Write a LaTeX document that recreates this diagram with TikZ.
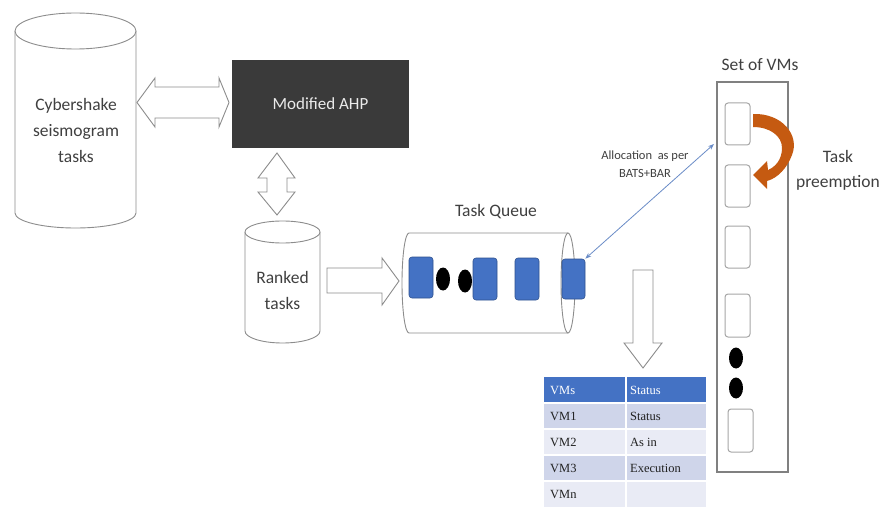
\documentclass[tikz,border=0pt]{standalone}
\usepackage{fontspec}
\setmainfont{Carlito}
\newfontfamily\tabfont{Liberation Serif}
\usetikzlibrary{arrows.meta}
\definecolor{outline}{HTML}{8C8C8C}
\definecolor{labelgray}{HTML}{404040}
\definecolor{ahpfill}{HTML}{3A3A3A}
\definecolor{taskblue}{HTML}{4472C4}
\definecolor{taskedge}{HTML}{2F528F}
\definecolor{linkblue}{HTML}{6A8CC7}
\definecolor{preempt}{HTML}{C55A11}
\definecolor{bandA}{HTML}{CFD5EA}
\definecolor{bandB}{HTML}{E9EBF5}
\definecolor{celltext}{HTML}{222222}

\begin{document}
\begin{tikzpicture}[x=1pt,y=-1pt,
  cyl/.style={draw=outline, line width=0.9pt, fill=white},
  blockarrow/.style={draw=outline, line width=0.9pt, fill=white, line join=miter},
  lbl/.style={text=labelgray, font=\fontsize{17.5}{26}\selectfont, align=center, inner sep=0pt},
  task/.style={draw=taskedge, fill=taskblue, rounded corners=3pt, line width=0.6pt, inner sep=0pt},
  vmslot/.style={draw=gray!70, line width=1pt, rounded corners=3pt, fill=white, inner sep=0pt},
  celltxt/.style={anchor=west, inner sep=0pt, text=celltext, font=\tabfont\fontsize{12.5}{14}\selectfont},
  headtxt/.style={celltxt, text=white}
]
\useasboundingbox (0,0) rectangle (881,508);
\fill[white] (0,0) rectangle (881,508);

% ---- source store: Cybershake tasks ----
\path[cyl] (15,31) -- (15,213) arc[start angle=180,end angle=360,x radius=60.5pt,y radius=15pt] -- (136,31);
\draw[cyl] (75.5,31) ellipse [x radius=60.5pt, y radius=18pt];
\node[lbl] (cyber) at (76,130) {Cybershake\\seismogram\\tasks};

% ---- Modified AHP block ----
\node[fill=ahpfill, minimum width=177pt, minimum height=88pt, inner sep=0pt,
      text=white!92!black, font=\fontsize{17}{20}\selectfont] (ahp) at (320.5,104) {Modified AHP};

% two-way block arrow between store and AHP
\draw[blockarrow] (137,102.5) -- (155,78) -- (155,87) -- (219,87) -- (219,78) -- (229,102.5)
  -- (219,127) -- (219,118) -- (155,118) -- (155,127) -- cycle;

% two-way block arrow between AHP and ranked tasks
\draw[blockarrow] (277,153) -- (295,178) -- (287,178) -- (287,192) -- (295,192) -- (277,215)
  -- (258,192) -- (267,192) -- (267,178) -- (258,178) -- cycle;

% ---- ranked tasks store ----
\path[cyl] (245,232) -- (245,331) arc[start angle=180,end angle=360,x radius=37.5pt,y radius=12pt] -- (320,232);
\draw[cyl] (282.5,232) ellipse [x radius=37.5pt, y radius=11pt];
\node[lbl] (ranked) at (282.5,290) {Ranked\\tasks};

% block arrow into the queue
\draw[blockarrow] (327,268) -- (382,268) -- (382,258) -- (399,281) -- (382,305) -- (382,293) -- (327,293) -- cycle;

% ---- task queue (horizontal cylinder) ----
\path[cyl] (568,233) -- (409,233) arc[start angle=90,end angle=270,x radius=7pt,y radius=50pt] -- (568,333);
\draw[cyl] (568,283) ellipse [x radius=7pt, y radius=50pt];
\node[lbl] (tq) at (496,212) {Task Queue};

\node[task, minimum width=24pt, minimum height=41pt] (q1) at (421,277.5) {};
\node[task, minimum width=24pt, minimum height=42pt] (q2) at (485,279) {};
\node[task, minimum width=24pt, minimum height=42pt] (q3) at (527,279) {};
\node[task, minimum width=23pt, minimum height=40pt] (q4) at (573.5,279) {};
\fill (443,279) ellipse [x radius=7pt, y radius=11.5pt];
\fill (465,281) ellipse [x radius=7pt, y radius=11.5pt];

% ---- set of VMs ----
\node[draw=gray, line width=1.3pt, minimum width=71pt, minimum height=390pt, inner sep=0pt] (vmset) at (752.5,277) {};
\node[lbl] (setvm) at (760,65) {Set of VMs};
\node[vmslot, minimum width=25pt, minimum height=42pt] (s1) at (737.5,124) {};
\node[vmslot, minimum width=25pt, minimum height=42pt] (s2) at (737.5,186) {};
\node[vmslot, minimum width=25pt, minimum height=42pt] (s3) at (737.5,247) {};
\node[vmslot, minimum width=25pt, minimum height=43pt] (s4) at (737.5,315.5) {};
\node[vmslot, minimum width=25pt, minimum height=43pt] (s5) at (740.5,430.5) {};
\fill (736,358) ellipse [x radius=7pt, y radius=10.5pt];
\fill (736,388) ellipse [x radius=7pt, y radius=10.5pt];

% allocation link from queue head to the VMs
\coordinate (vmentry) at (714,144);
\draw[linkblue, line width=0.8pt, {Stealth[length=6pt,width=4.5pt]}-{Stealth[length=6pt,width=4.5pt]}] (q4.north east) -- (vmentry);
\node[text=labelgray, font=\fontsize{12.5}{18}\selectfont, align=center, inner sep=0pt] (alloc) at (645,164) {Allocation\ \ as per\\BATS+BAR};

% preemption: curved arrow from the first slot down to the second
\fill[preempt] (753,114) .. controls (782,113) and (800,135) .. (792,155)
  .. controls (787,168) and (778,178) .. (767,181) -- (767,189) -- (753,175) -- (767,161)
  -- (768,170) .. controls (775,167) and (782,160) .. (782,148)
  .. controls (782,136) and (770,127) .. (753,127) -- cycle;
\node[lbl, font=\fontsize{17.5}{25}\selectfont] (preemptlbl) at (838,170) {Task\\preemption};

% block arrow down to the status table
\draw[blockarrow] (633,270) -- (653,270) -- (653,343) -- (662,343) -- (643,368) -- (624,343) -- (633,343) -- cycle;

% ---- VM status table ----
\fill[taskblue] (544,377) rectangle (706,403);
\fill[bandA] (544,403) rectangle (706,429);
\fill[bandB] (544,429) rectangle (706,455);
\fill[bandA] (544,455) rectangle (706,481);
\fill[bandB] (544,481) rectangle (706,507);
\draw[white, line width=1.5pt] (626,377) -- (626,507)
  (544,403) -- (706,403) (544,429) -- (706,429) (544,455) -- (706,455) (544,481) -- (706,481);
\node[headtxt] (h1) at (550,390) {VMs};
\node[headtxt] (h2) at (630,390) {Status};
\node[celltxt] (r1a) at (550,416) {VM1};
\node[celltxt] (r1b) at (630,416) {Status};
\node[celltxt] (r2a) at (550,442) {VM2};
\node[celltxt] (r2b) at (630,442) {As in};
\node[celltxt] (r3a) at (550,468) {VM3};
\node[celltxt] (r3b) at (630,468) {Execution};
\node[celltxt] (r4a) at (550,494) {VMn};
\end{tikzpicture}
\end{document}
